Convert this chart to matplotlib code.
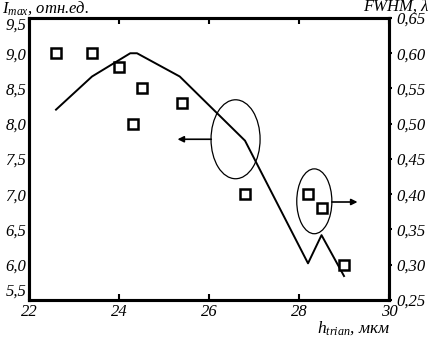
import matplotlib
matplotlib.use('Agg')
import matplotlib.pyplot as plt
import matplotlib.transforms as mtransforms
from matplotlib.patches import Ellipse

# I_max (left axis), solid line
h_line = [22.6, 23.4, 24.25, 24.4, 25.35, 26.8, 28.2, 28.5, 29.0]
imax = [8.2, 8.67, 9.0, 9.0, 8.67, 7.76, 6.02, 6.42, 5.84]

# FWHM (right axis), open squares
h_sq = [22.6, 23.4, 24.0, 24.3, 24.5, 25.4, 26.8, 28.2, 28.5, 29.0]
fwhm = [0.60, 0.60, 0.58, 0.50, 0.55, 0.53, 0.40, 0.40, 0.38, 0.30]

x_ticks = [22, 24, 26, 28, 30]
left_ticks = [5.5, 6.0, 6.5, 7.0, 7.5, 8.0, 8.5, 9.0, 9.5]
right_ticks = [0.25, 0.30, 0.35, 0.40, 0.45, 0.50, 0.55, 0.60, 0.65]

# ellipses (center x, center y, width, height) in left-axis units and arrows
ell_left = (26.59, 7.78, 1.09, 1.12)
ell_right = (28.34, 6.90, 0.78, 0.92)
arrow_left = ((26.05, 7.78), (25.3, 7.78))
arrow_right = ((28.73, 6.89), (29.3, 6.89))

font = 'Liberation Serif'
plt.rcParams['font.family'] = font
plt.rcParams['font.style'] = 'italic'
plt.rcParams['mathtext.fontset'] = 'custom'
plt.rcParams['mathtext.it'] = font + ':italic'
plt.rcParams['mathtext.rm'] = font + ':italic'
plt.rcParams['mathtext.default'] = 'it'


def comma(v, nd):
    return ('{:.%df}' % nd).format(v).replace('.', ',')


fig = plt.figure(figsize=(4.29, 3.37), dpi=100)
ax = fig.add_axes([0.0676, 0.1098, 0.8392, 0.8368])
ax2 = ax.twinx()

ax.plot(h_line, imax, color='black', lw=1.4)
ax2.plot(h_sq, fwhm, linestyle='none', marker='s', markersize=7.5,
         markerfacecolor='white', markeredgecolor='black', markeredgewidth=1.8)

ax.set_xlim(22, 30)
ax.set_ylim(5.5, 9.5)
ax2.set_ylim(0.25, 0.65)

ax.set_xticks(x_ticks)
ax.set_xticklabels([str(t) for t in x_ticks], fontsize=12)
ax.set_yticks(left_ticks)
ax.set_yticklabels([comma(t, 1) for t in left_ticks], fontsize=12)
ax2.set_yticks(right_ticks)
ax2.set_yticklabels([comma(t, 2) for t in right_ticks], fontsize=12)

# end labels of the left axis sit inside the axis span
ylabels = ax.get_yticklabels()
ylabels[0].set_verticalalignment('bottom')
ylabels[-1].set_verticalalignment('top')
# nudge the top right label a little down, away from the FWHM title
top_r = ax2.get_yticklabels()[-1]
top_r.set_transform(top_r.get_transform() +
                    mtransforms.ScaledTranslation(0, -5 / 100, fig.dpi_scale_trans))

ax.tick_params(axis='x', direction='in', length=4, width=1.5, pad=3, top=True)
ax.tick_params(axis='y', direction='in', length=0, pad=2)
ax2.tick_params(axis='y', direction='out', length=2, width=1.5, pad=3)

for a in (ax, ax2):
    for s in a.spines.values():
        s.set_linewidth(2.2)

for (cx, cy, w, hgt) in (ell_left, ell_right):
    ax.add_patch(Ellipse((cx, cy), w, hgt, fill=False, edgecolor='black', lw=0.9))
for (start, end) in (arrow_left, arrow_right):
    ax.annotate('', xy=end, xytext=start,
                arrowprops=dict(arrowstyle='-|>', color='black', lw=1.2,
                                mutation_scale=9, shrinkA=0, shrinkB=0))

fig.text(0.005, 0.962, r'$I_{max}$, отн.ед.', fontsize=12, ha='left', va='baseline')
fig.text(0.998, 0.968, 'FWHM, λ', fontsize=12, ha='right', va='baseline')
fig.text(0.91, 0.012, r'$h_{trian}$, мкм', fontsize=12.5, ha='right', va='baseline')

fig.savefig('out.png', dpi=100)
